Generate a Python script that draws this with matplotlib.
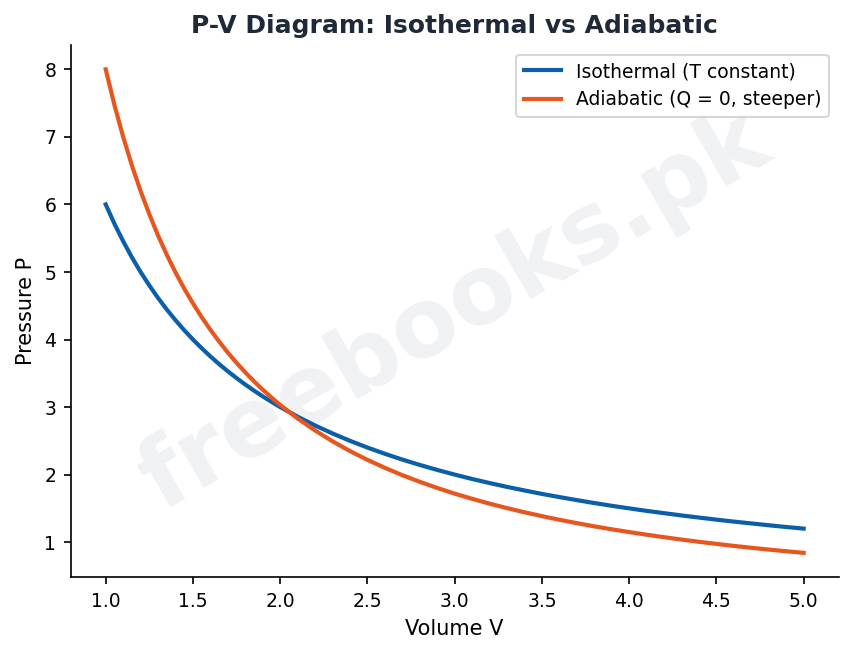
import matplotlib
matplotlib.use("Agg")
import matplotlib.pyplot as plt

# volume values
volume = [1.00, 1.05, 1.10, 1.15, 1.20, 1.25, 1.30, 1.35, 1.40, 1.45,
          1.50, 1.55, 1.60, 1.65, 1.70, 1.75, 1.80, 1.85, 1.90, 1.95,
          2.00, 2.10, 2.20, 2.30, 2.40, 2.50, 2.60, 2.70, 2.80, 2.90,
          3.00, 3.10, 3.20, 3.30, 3.40, 3.50, 3.60, 3.70, 3.80, 3.90,
          4.00, 4.10, 4.20, 4.30, 4.40, 4.50, 4.60, 4.70, 4.80, 4.90, 5.00]

p_isothermal = [6.000, 5.714, 5.455, 5.217, 5.000, 4.800, 4.615, 4.444, 4.286, 4.138,
                4.000, 3.871, 3.750, 3.636, 3.529, 3.429, 3.333, 3.243, 3.158, 3.077,
                3.000, 2.857, 2.727, 2.609, 2.500, 2.400, 2.308, 2.222, 2.143, 2.069,
                2.000, 1.935, 1.875, 1.818, 1.765, 1.714, 1.667, 1.622, 1.579, 1.538,
                1.500, 1.463, 1.429, 1.395, 1.364, 1.333, 1.304, 1.277, 1.250, 1.224, 1.200]

p_adiabatic = [8.000, 7.472, 7.001, 6.578, 6.198, 5.855, 5.541, 5.255, 4.994, 4.754,
               4.535, 4.331, 4.144, 3.970, 3.806, 3.655, 3.513, 3.381, 3.257, 3.141,
               3.031, 2.831, 2.653, 2.493, 2.348, 2.218, 2.100, 1.991, 1.893, 1.802,
               1.718, 1.641, 1.570, 1.504, 1.442, 1.385, 1.331, 1.281, 1.234, 1.190,
               1.149, 1.110, 1.073, 1.038, 1.005, 0.974, 0.944, 0.916, 0.890, 0.865, 0.841]

fig, ax = plt.subplots(figsize=(5.687, 4.367), dpi=150)

# watermark
ax.text(0.5, 0.5, "freebooks.pk", transform=ax.transAxes, fontsize=46,
        fontweight="bold", color="#e5e7eb", alpha=0.55, rotation=30,
        ha="center", va="center", zorder=0)

ax.plot(volume, p_isothermal, color="#0b5ea8", linewidth=2,
        label="Isothermal (T constant)", zorder=2)
ax.plot(volume, p_adiabatic, color="#e8561f", linewidth=2,
        label="Adiabatic (Q = 0, steeper)", zorder=2)

ax.set_title("P-V Diagram: Isothermal vs Adiabatic", fontsize=12,
             fontweight="bold", color="#1f2937")
ax.set_xlabel("Volume V", fontsize=10)
ax.set_ylabel("Pressure P", fontsize=10)
ax.tick_params(labelsize=9)
ax.spines["top"].set_visible(False)
ax.spines["right"].set_visible(False)
ax.legend(loc="upper right", fontsize=9)

plt.subplots_adjust(left=0.083, right=0.983, top=0.931, bottom=0.119)
plt.savefig("out.png")
